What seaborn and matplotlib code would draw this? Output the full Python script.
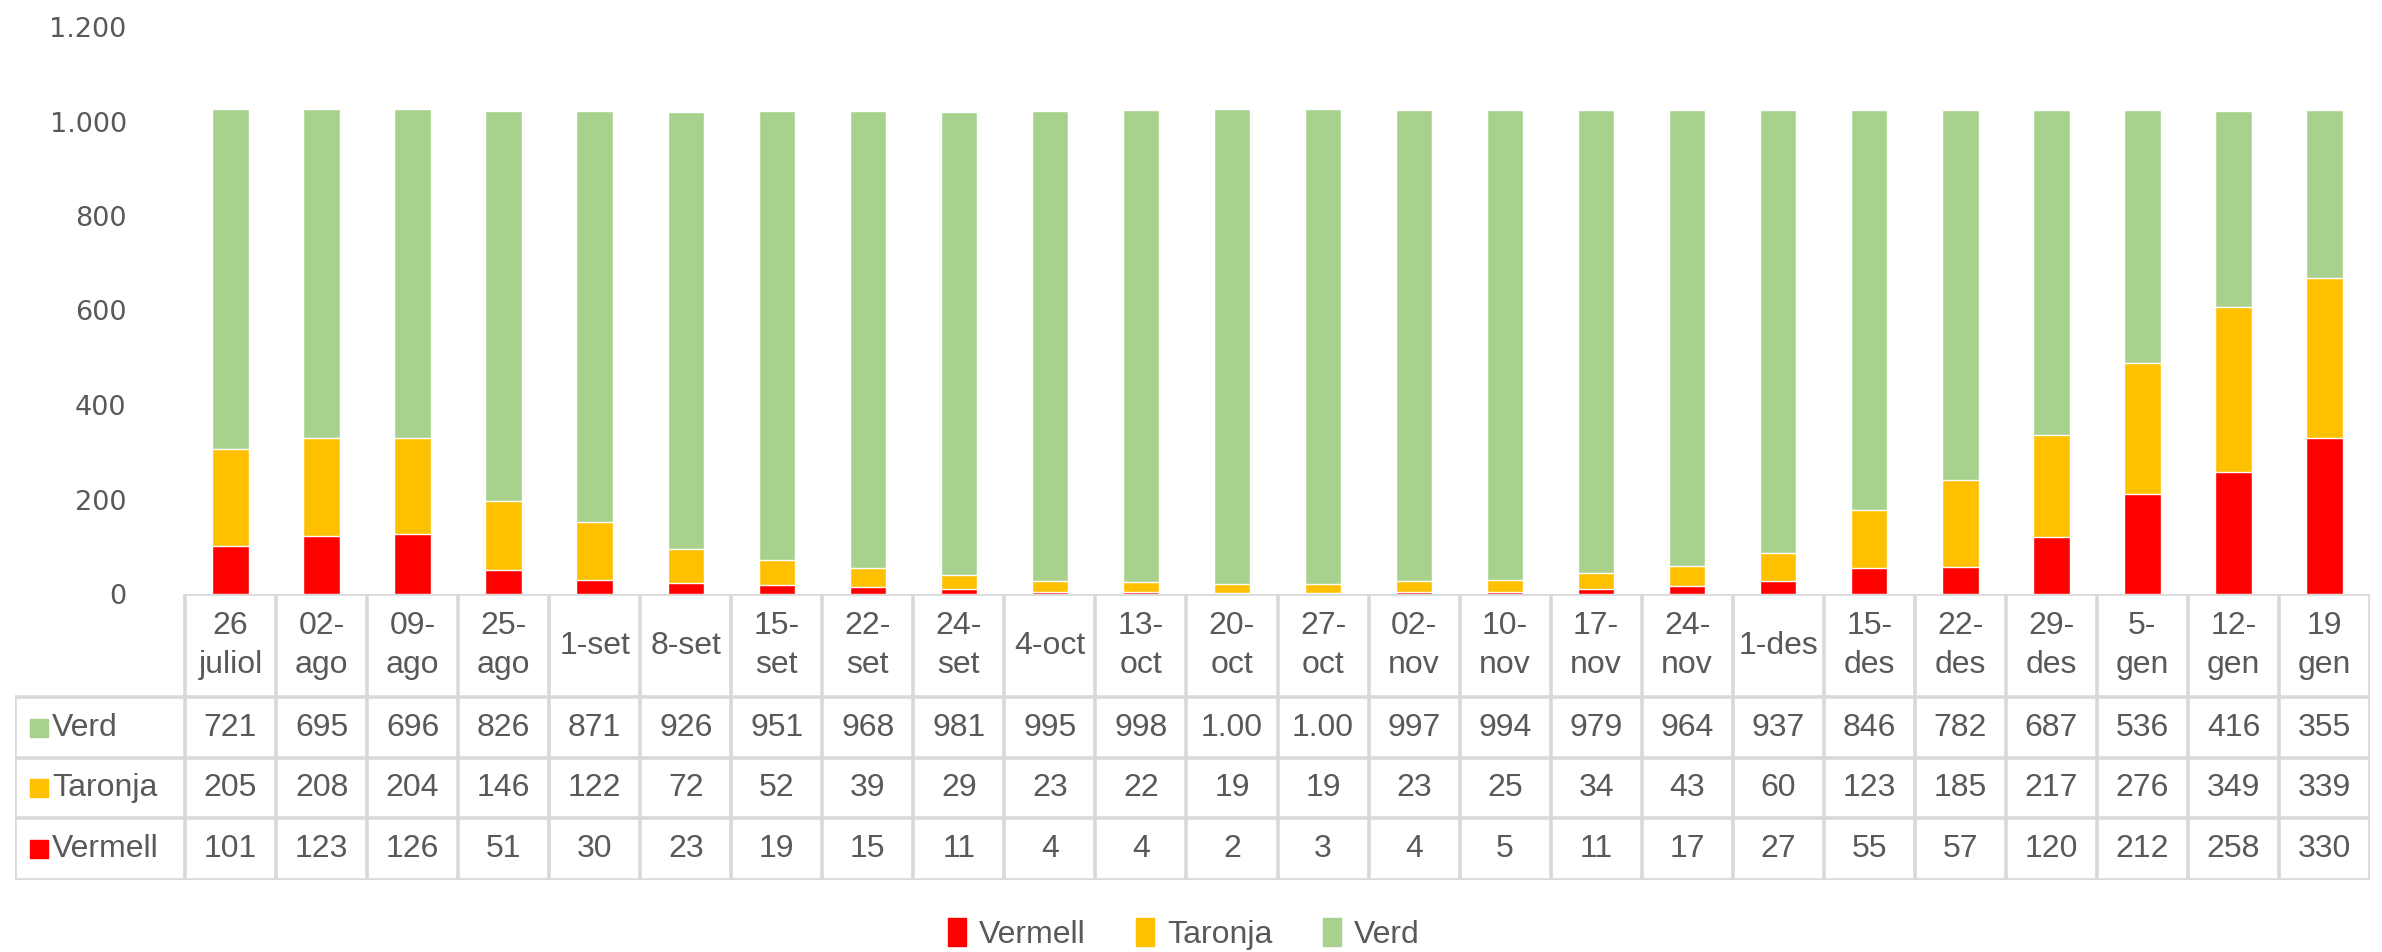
import matplotlib
matplotlib.use("Agg")
import matplotlib.pyplot as plt
from matplotlib.patches import Patch
import seaborn as sns
import pandas as pd

categories = ["26\njuliol", "02-\nago", "09-\nago", "25-\nago", "1-set", "8-set", "15-\nset",
              "22-\nset", "24-\nset", "4-oct", "13-\noct", "20-\noct", "27-\noct", "02-\nnov",
              "10-\nnov", "17-\nnov", "24-\nnov", "1-des", "15-\ndes", "22-\ndes", "29-\ndes",
              "5-\ngen", "12-\ngen", "19\ngen"]
verd = [721, 695, 696, 826, 871, 926, 951, 968, 981, 995, 998, 1006, 1005, 997, 994, 979,
        964, 937, 846, 782, 687, 536, 416, 355]
taronja = [205, 208, 204, 146, 122, 72, 52, 39, 29, 23, 22, 19, 19, 23, 25, 34, 43, 60, 123,
           185, 217, 276, 349, 339]
vermell = [101, 123, 126, 51, 30, 23, 19, 15, 11, 4, 4, 2, 3, 4, 5, 11, 17, 27, 55, 57, 120,
           212, 258, 330]
series_names = ["Vermell", "Taronja", "Verd"]
yticks = [0, 200, 400, 600, 800, 1000, 1200]

RED, ORANGE, GREEN = "#FF0000", "#FFC000", "#A9D18E"
TXT = "#595959"
GRID = "#D9D9D9"

sns.set_theme(style="white")
plt.rcParams["font.family"] = ["DejaVu Sans"]
TFONT = ["Liberation Sans", "DejaVu Sans"]
tsize = 23

W, H = 2382, 952
fig = plt.figure(figsize=(W / 100, H / 100), dpi=100)

x_left, x_right = 185, 2370
y_zero, y_top = 594, 27
ax = fig.add_axes([x_left / W, 1 - y_zero / H, (x_right - x_left) / W, (y_zero - y_top) / H])

df = pd.DataFrame({"cat": categories, "Verd": verd, "Taronja": taronja, "Vermell": vermell})
df["tot"] = df["Verd"] + df["Taronja"] + df["Vermell"]
df["ro"] = df["Taronja"] + df["Vermell"]

sns.barplot(data=df, x="cat", y="tot", color=GREEN, width=0.4, saturation=1, ax=ax, order=categories)
sns.barplot(data=df, x="cat", y="ro", color=ORANGE, width=0.4, saturation=1, ax=ax, order=categories)
sns.barplot(data=df, x="cat", y="Vermell", color=RED, width=0.4, saturation=1, ax=ax, order=categories)

ax.set_xlim(-0.5, len(categories) - 0.5)
ax.set_ylim(0, 1200)
ax.set_yticks(yticks)
ax.set_yticklabels([f"{v:,}".replace(",", ".") for v in yticks], color=TXT, fontsize=19.5)
ax.tick_params(axis="y", length=0, pad=42)
ax.set_xticks([])
ax.set_xlabel("")
ax.set_ylabel("")
for s in ax.spines.values():
    s.set_visible(False)

# ---- data table ----
t_left, t_bottom = 15, 880
colw = (x_right - x_left) / len(categories)
labw = (x_left - t_left) / colw
tax = fig.add_axes([t_left / W, 1 - t_bottom / H, (x_right - t_left) / W, (t_bottom - y_zero) / H])
tax.set_xlim(-0.5 - labw, len(categories) - 0.5)
tax.set_ylim(0, t_bottom - y_zero)
tax.axis("off")
n = len(categories)
htop = t_bottom - y_zero
hdr = t_bottom - 697
rows = [hdr, 122, 62, 0]
lw = 2.6
tax.plot([-0.5, n - 0.5], [htop, htop], color=GRID, lw=lw, solid_capstyle="butt")
for r in rows:
    tax.plot([-0.5 - labw, n - 0.5], [r, r], color=GRID, lw=lw, solid_capstyle="butt")
tax.plot([-0.5 - labw, -0.5 - labw], [0, hdr], color=GRID, lw=lw)
for i in range(n + 1):
    tax.plot([i - 0.5, i - 0.5], [0, htop], color=GRID, lw=lw)

for i, c in enumerate(categories):
    tax.text(i, (hdr + htop) / 2, c, ha="center", va="center", fontsize=tsize,
             family=TFONT, color=TXT, linespacing=1.35)

def fmt(v):
    s = f"{v:,}".replace(",", ".")
    return s[:4]

table_rows = [("Verd", verd, GREEN), ("Taronja", taronja, ORANGE), ("Vermell", vermell, RED)]
for k, (name, vals, col) in enumerate(table_rows):
    yc = (rows[k] + rows[k + 1]) / 2
    tax.plot([-0.5 - labw + 24 / colw], [yc], marker="s", ms=13, color=col, mec=col)
    tax.text(-0.5 - labw + 37 / colw, yc, name, ha="left", va="center", fontsize=tsize,
             family=TFONT, color=TXT)
    for i, v in enumerate(vals):
        tax.text(i, yc, fmt(v), ha="center", va="center", fontsize=tsize,
                 family=TFONT, color=TXT)

handles = [Patch(color=RED), Patch(color=ORANGE), Patch(color=GREEN)]
fig.legend(handles, series_names, loc="center", bbox_to_anchor=(0.497, 1 - 934 / H), ncol=3,
           frameon=False, handlelength=0.55, handleheight=1.0, handletextpad=0.4, columnspacing=1.6,
           prop={"family": TFONT, "size": tsize}, labelcolor=TXT)

fig.savefig("out.png", dpi=100, facecolor="white")
